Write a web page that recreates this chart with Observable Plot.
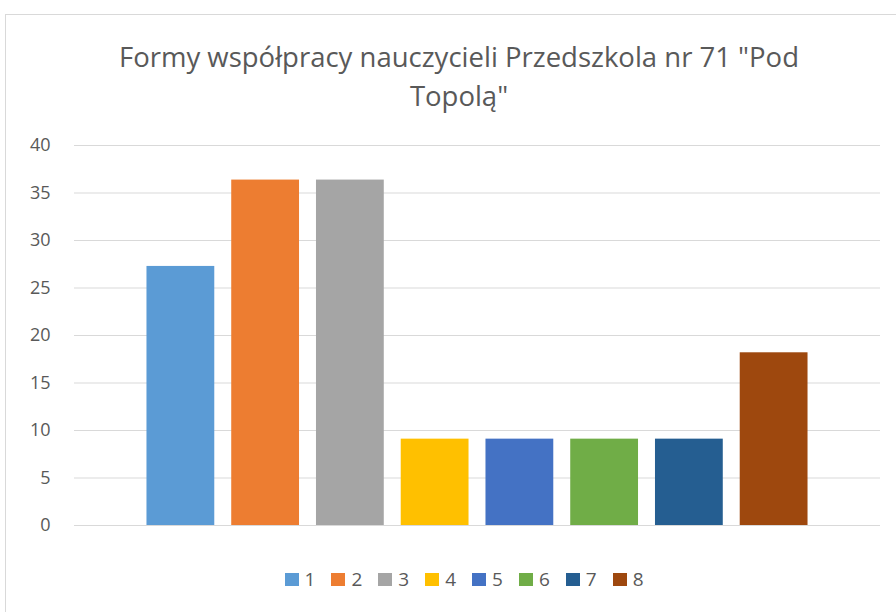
<!DOCTYPE html>
<html><head><meta charset="utf-8">
<script src="https://cdn.jsdelivr.net/npm/d3@7"></script>
<script src="https://cdn.jsdelivr.net/npm/@observablehq/plot@0.6"></script>
<style>
body{margin:0;background:#fff;}
#wrap{position:relative;width:896px;height:612px;overflow:hidden;font-family:"Open Sans",sans-serif;color:#595959;}
#frame{position:absolute;left:5px;top:14px;width:920px;height:640px;border:1px solid #d9d9d9;}
#title{position:absolute;left:5px;width:908px;top:37px;text-align:center;font-size:27.5px;line-height:39px;}
#chart{position:absolute;left:0;top:0;}
#legend{position:absolute;top:566px;left:10px;width:908px;display:flex;justify-content:center;font-size:19px;line-height:26px;}
.item{display:flex;align-items:center;margin:0 8px;}
.sw{width:14px;height:13px;margin-right:6px;}
</style>
</head><body>
<div id="wrap">
<div id="frame"></div>
<div id="chart"></div>
<div id="title"></div>
<div id="legend"></div>
</div>
<script>
const titleLines = ["Formy współpracy nauczycieli Przedszkola nr 71 \"Pod", "Topolą\""];
const categories = ["1","2","3","4","5","6","7","8"];
const values = [27.27, 36.36, 36.36, 9.09, 9.09, 9.09, 9.09, 18.18];
const colors = ["#5B9BD5","#ED7D31","#A5A5A5","#FFC000","#4472C4","#70AD47","#255E91","#9E480E"];
const yTicks = [0,5,10,15,20,25,30,35,40];

const data = categories.map((c,i)=>({cat:c, value:values[i]}));

const chart = Plot.plot({
  width: 896, height: 612,
  marginTop: 145, marginBottom: 87, marginLeft: 74, marginRight: 16,
  style: {fontFamily: "Open Sans, sans-serif", color: "#595959", background: "transparent"},
  x: {domain: categories, range: [138, 816], paddingInner: 0.2, paddingOuter: 0.1, round: false, axis: null},
  y: {domain: [0, 40], axis: null},
  color: {domain: categories, range: colors},
  marks: [
    Plot.ruleY(yTicks, {stroke: "#d9d9d9", strokeWidth: 1}),
    Plot.barY(data, {x: "cat", y: "value", fill: "cat"}),
    Plot.axisY({ticks: yTicks, tickSize: 0, tickPadding: 24, fontSize: 18, label: null})
  ]
});
document.getElementById("chart").appendChild(chart);

const t = document.getElementById("title");
titleLines.forEach((l,i)=>{ if(i) t.appendChild(document.createElement("br")); t.appendChild(document.createTextNode(l)); });

const lg = document.getElementById("legend");
categories.forEach((c,i)=>{
  const it = document.createElement("div"); it.className="item";
  const sw = document.createElement("span"); sw.className="sw"; sw.style.background=colors[i];
  const tx = document.createElement("span"); tx.textContent=c;
  it.appendChild(sw); it.appendChild(tx); lg.appendChild(it);
});
</script>
</body></html>
